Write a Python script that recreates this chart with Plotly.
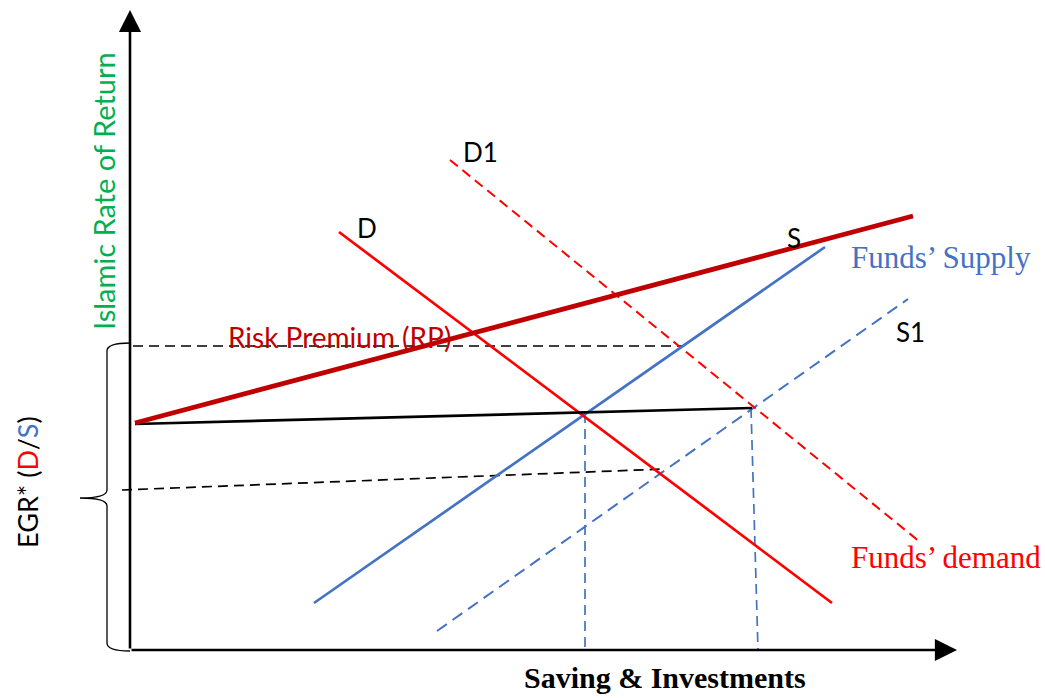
import plotly.graph_objects as go

# picture is laid out in pixel units: x to the right, y downward
W, H = 1045, 698

# curve end points
rp_x, rp_y = [135, 913], [423, 216]            # risk premium (thick)
base_x, base_y = [135, 752], [424, 408]        # black base line
supply_x, supply_y = [314, 825], [603, 247]    # S
supply1_x, supply1_y = [437, 908], [631, 299]  # S1
demand_x, demand_y = [339, 832], [232, 603]    # D
demand1_x, demand1_y = [450, 920], [160, 542]  # D1
upper_x, upper_y = [133, 683], [346, 346]      # upper guide
lower_x, lower_y = [122, 665], [490, 469]      # lower guide
drop1_x, drop1_y = [585, 585], [413, 650]
drop2_x, drop2_y = [751, 758], [408, 650]

# axes
origin = (130, 650)
y_tip = 10
x_tip = 957

# brace on the left
brace_top, brace_mid, brace_bot = 343, 498, 651
brace_x, brace_tip_x = 107, 80

RED = "#FF0000"
DARKRED = "#C00000"
BLUE = "#4472C4"
GREEN = "#00B050"
SANS = "Lato, Carlito, Calibri, sans-serif"
SERIF = "Liberation Serif, Times New Roman, serif"

fig = go.Figure()


def seg(xs, ys, color, width, dash="solid"):
    fig.add_trace(go.Scatter(x=xs, y=ys, mode="lines",
                             line=dict(color=color, width=width, dash=dash),
                             hoverinfo="skip"))


seg(upper_x, upper_y, "black", 1.7, "10px,6px")
seg(lower_x, lower_y, "black", 1.7, "10px,6px")
seg(drop1_x, drop1_y, BLUE, 1.7, "10px,6px")
seg(drop2_x, drop2_y, BLUE, 1.7, "10px,6px")
seg(supply1_x, supply1_y, BLUE, 2, "12px,7px")
seg(demand1_x, demand1_y, RED, 2, "10px,6px")
seg(supply_x, supply_y, BLUE, 2.7)
seg(demand_x, demand_y, RED, 2.7)
seg(base_x, base_y, "black", 2.7)
seg(rp_x, rp_y, DARKRED, 4.8)

# axes with arrow heads
for tx, ty in [(origin[0], y_tip), (x_tip, origin[1])]:
    fig.add_annotation(x=tx, y=ty, ax=origin[0], ay=origin[1],
                       xref="x", yref="y", axref="x", ayref="y",
                       showarrow=True, arrowhead=2, arrowsize=1.7,
                       arrowwidth=2.6, arrowcolor="black", text="")

# brace
c = 8
brace_path = (
    f"M {origin[0]},{brace_top} "
    f"Q {brace_x},{brace_top} {brace_x},{brace_top + c} "
    f"L {brace_x},{brace_mid - c} "
    f"Q {brace_x},{brace_mid} {brace_tip_x},{brace_mid} "
    f"Q {brace_x},{brace_mid} {brace_x},{brace_mid + c} "
    f"L {brace_x},{brace_bot - c} "
    f"Q {brace_x},{brace_bot} {origin[0]},{brace_bot}"
)
fig.add_shape(type="path", path=brace_path, xref="x", yref="y",
              line=dict(color="black", width=1.3))


def label(x, y, text, color="black", size=26, family=SANS, angle=0):
    fig.add_annotation(x=x, y=y, text=text, showarrow=False,
                       xref="x", yref="y", textangle=angle,
                       font=dict(color=color, size=size, family=family))


label(480, 152, "D1")
label(367, 228, "D")
label(794, 238, "S")
label(910, 332, "S1")
label(941, 257, "Funds’ Supply", BLUE, 31, SERIF)
label(946, 557, "Funds’ demand", RED, 31, SERIF)
label(339, 337, "Risk Premium (RP)", DARKRED, 28)
label(665, 677, "<b>Saving &amp; Investments</b>", "black", 30, SERIF)
label(103, 191, "Islamic Rate of Return", GREEN, 29, angle=-90)
label(27, 482,
      f"EGR* (<span style='color:{RED}'>D</span>/"
      f"<span style='color:{BLUE}'>S</span>)",
      "black", 27, angle=-90)

fig.update_layout(
    width=W, height=H,
    margin=dict(l=0, r=0, t=0, b=0),
    showlegend=False,
    plot_bgcolor="white", paper_bgcolor="white",
    xaxis=dict(range=[0, W], visible=False, fixedrange=True),
    yaxis=dict(range=[H, 0], visible=False, fixedrange=True),
)

# drop the page's default body margin so the figure sits at the corner
fig.write_html("out.html",
               config={"displayModeBar": False},
               post_script="document.body.style.margin='0';"
                           "document.body.style.overflow='hidden';")
